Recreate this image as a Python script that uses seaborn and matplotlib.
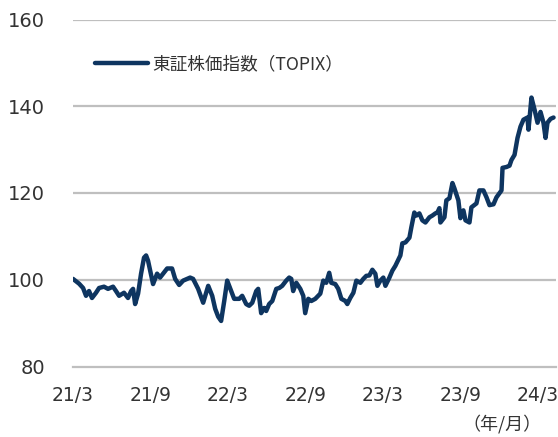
import numpy as np
import pandas as pd
import matplotlib
matplotlib.use("Agg")
import matplotlib.pyplot as plt
import seaborn as sns

# 月数（21/3 からの経過月）
meses = [0.00, 0.47, 0.78, 1.01, 1.24, 1.47, 1.78, 2.02, 2.40, 2.71,
         3.10, 3.33, 3.57, 3.95, 4.26, 4.50, 4.65, 4.81, 5.04, 5.27,
         5.50, 5.66, 5.81, 6.20, 6.51, 6.74, 6.98, 7.29, 7.67, 7.91,
         8.22, 8.53, 9.07, 9.30, 9.69, 10.08, 10.47, 10.78, 11.01, 11.24,
         11.47, 11.71, 11.94, 12.25, 12.48, 12.87, 13.10, 13.41, 13.64, 13.88,
         14.19, 14.34, 14.57, 14.81, 14.96, 15.19, 15.43, 15.74, 15.97, 16.20,
         16.51, 16.74, 16.90, 17.05, 17.29, 17.60, 17.83, 17.98, 18.22, 18.45,
         18.76, 19.15, 19.38, 19.61, 19.84, 20.00, 20.31, 20.54, 20.78, 21.09,
         21.24, 21.47, 21.71, 21.94, 22.25, 22.48, 22.71, 22.95, 23.18, 23.41,
         23.57, 23.80, 24.03, 24.19, 24.50, 24.73, 24.96, 25.27, 25.35, 25.50,
         25.74, 26.05, 26.20, 26.43, 26.59, 26.82, 27.05, 27.29, 27.60, 27.83,
         28.06, 28.22, 28.37, 28.45, 28.76, 28.91, 29.15, 29.38, 29.53, 29.84,
         30.00, 30.23, 30.39, 30.70, 30.85, 31.24, 31.47, 31.78, 32.02, 32.25,
         32.56, 32.79, 33.18, 33.26, 33.57, 33.80, 33.95, 34.19, 34.42, 34.65,
         34.88, 35.19, 35.27, 35.50, 35.74, 35.97, 36.20, 36.43, 36.59, 36.74,
         36.98, 37.21]

topix = [100.2, 99.1, 98.1, 96.3, 97.4, 95.8, 97.0, 98.1, 98.4, 97.9,
         98.4, 97.4, 96.3, 97.0, 95.8, 97.4, 97.9, 94.4, 96.8, 101.4,
         105.1, 105.6, 104.4, 99.0, 101.4, 100.5, 101.4, 102.6, 102.6, 100.2,
         98.8, 99.8, 100.5, 100.2, 97.9, 94.7, 98.6, 96.3, 93.3, 91.5,
         90.5, 95.1, 99.8, 97.4, 95.6, 95.6, 96.3, 94.4, 94.0, 94.7,
         97.4, 97.9, 92.3, 93.5, 92.8, 94.4, 95.1, 97.9, 98.1, 98.6,
         99.8, 100.5, 100.2, 97.4, 99.3, 97.9, 96.3, 92.3, 95.6, 95.1,
         95.6, 96.8, 99.8, 99.3, 101.6, 99.3, 99.0, 97.9, 95.6, 95.1,
         94.4, 95.8, 97.0, 99.8, 99.3, 100.2, 100.9, 101.0, 102.3, 101.4,
         98.6, 99.8, 100.5, 98.6, 100.5, 102.1, 103.2, 105.1, 105.6, 108.4,
         108.6, 109.7, 112.1, 115.5, 114.8, 115.3, 113.7, 113.2, 114.4, 114.8,
         115.3, 115.5, 116.5, 113.2, 114.4, 118.3, 118.8, 122.3, 121.1, 118.3,
         114.2, 116.0, 113.7, 113.2, 116.7, 117.6, 120.6, 120.6, 119.0, 117.2,
         117.4, 119.0, 120.6, 125.8, 126.0, 126.3, 127.6, 128.8, 132.7, 135.3,
         136.9, 137.4, 134.6, 142.0, 139.2, 136.2, 138.7, 136.2, 132.7, 136.2,
         137.1, 137.4]

rotulos_x = ["21/3", "21/9", "22/3", "22/9", "23/3", "23/9", "24/3"]
posicoes_x = [0, 6, 12, 18, 24, 30, 36]
ticks_y = [80, 100, 120, 140, 160]

NOME_SERIE = "東証株価指数（TOPIX）"
COR_LINHA = "#0e3560"
COR_GRADE = "#bfbfbf"
COR_TEXTO = "#333333"
CJK = ["Noto Sans CJK JP", "DejaVu Sans"]

sns.set_style("white")
plt.rcParams["font.family"] = ["DejaVu Sans"]

df = pd.DataFrame({"mes": meses, "valor": topix})

fig = plt.figure(figsize=(5.58, 4.37), dpi=100)
ax = fig.add_axes([73 / 558, 1 - 366.5 / 437, 483 / 558, 347 / 437])

sns.lineplot(data=df, x="mes", y="valor", ax=ax, color=COR_LINHA,
             linewidth=3.2, label=NOME_SERIE)

ax.set_xlim(0, 37.4)
ax.set_ylim(80, 160)
ax.set_yticks(ticks_y)
ax.set_xticks(posicoes_x)
ax.set_xticklabels(rotulos_x)
ax.set_xlabel("")
ax.set_ylabel("")

# grade horizontal cinza
for v in ticks_y[1:]:
    ax.axhline(v, color=COR_GRADE, linewidth=1.6, zorder=0)

for lado in ["left", "right", "top"]:
    ax.spines[lado].set_visible(False)
ax.spines["bottom"].set_color(COR_GRADE)
ax.spines["bottom"].set_linewidth(1.6)

ax.tick_params(axis="x", direction="in", length=4, width=1.2, color=COR_GRADE,
               pad=14, labelsize=13.5, labelcolor=COR_TEXTO)
ax.tick_params(axis="y", length=0, pad=20, labelsize=14, labelcolor=COR_TEXTO)

leg = ax.legend(loc="center left", bbox_to_anchor=(0.045, 0.872), frameon=False,
                borderpad=0, borderaxespad=0, handlelength=3.0, handletextpad=0.25,
                prop={"family": CJK, "size": 12.7})
for t in leg.get_texts():
    t.set_color(COR_TEXTO)

fig.text(0.97, 0.03, "（年/月）", ha="right", va="center", fontsize=13,
         family=CJK, color=COR_TEXTO)

fig.savefig("out.png", dpi=100)
